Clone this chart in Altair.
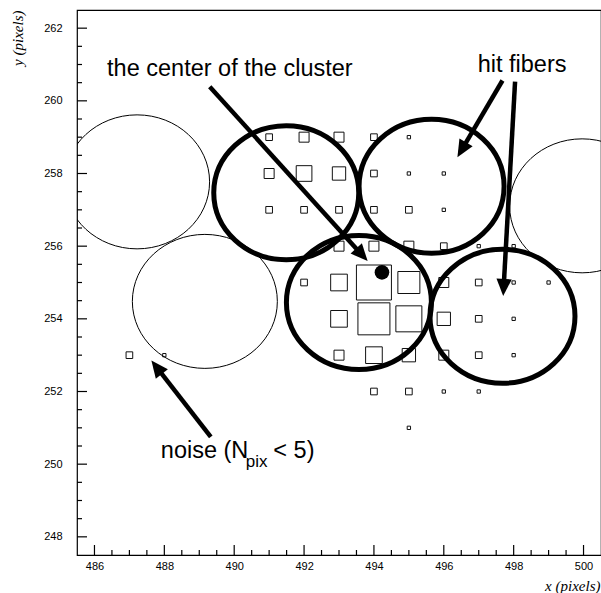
import math
import altair as alt
import pandas as pd

# ---- hit pixels: column, row and relative box size (pixel count) ----
hit_x = [491, 492, 493, 494, 495,
         491, 492, 493, 494, 495, 496,
         491, 492, 493, 494, 495, 496,
         493, 494, 495, 496, 497, 498,
         492, 493, 494, 495, 496, 497, 498, 499,
         493, 494, 495, 496, 497, 498,
         493, 494, 495, 496, 497, 498,
         494, 495, 496, 497,
         495,
         487, 488]
hit_y = [259, 259, 259, 259, 259,
         258, 258, 258, 258, 258, 258,
         257, 257, 257, 257, 257, 257,
         256, 256, 256, 256, 256, 256,
         255, 255, 255, 255, 255, 255, 255, 255,
         254, 254, 254, 254, 254, 254,
         253, 253, 253, 253, 253, 253,
         252, 252, 252, 252,
         251,
         253, 253]
hit_q = [2, 3, 3, 2, 1,
         3, 4.7, 4, 2, 1, 1,
         2, 2, 2, 2, 2, 1,
         3, 3, 3, 2, 1, 1,
         2, 5, 10.5, 6.6, 3, 2, 1, 1,
         5, 9.6, 7.8, 4, 2, 1,
         3, 5, 4, 3, 2, 1,
         2, 2, 1, 1,
         1,
         2, 1]

# ---- fibre outlines: centres and whether the fibre was hit ----
fiber_x = [487.22, 489.16, 491.49, 495.65, 493.57, 497.68, 499.96]
fiber_y = [257.77, 254.48, 257.47, 257.65, 254.45, 254.07, 257.11]
fiber_hit = [False, False, True, True, True, True, False]

# ---- reconstructed cluster centre ----
center_x = [494.23]
center_y = [255.28]

# ---- annotation arrows (tail -> head) ----
arrow_x0 = [489.30, 497.68, 498.04, 489.33]
arrow_y0 = [260.39, 260.56, 260.53, 250.75]
arrow_x1 = [493.82, 496.39, 497.70, 487.63]
arrow_y1 = [255.59, 258.45, 254.63, 252.85]

# ---- annotation texts (left end, baseline) ----
label_text = ["the center of the cluster", "hit fibers", "noise (N", "< 5)"]
label_x = [486.36, 496.97, 487.90, 491.12]
label_y = [260.67, 260.78, 250.16, 250.16]
sub_text = ["pix"]
sub_x = [490.33]
sub_y = [249.93]

# ---- axis ticks ----
x_major = [486, 488, 490, 492, 494, 496, 498, 500]
y_major = [248, 250, 252, 254, 256, 258, 260, 262]
x_minor = [v / 2 for v in range(972, 1001) if v % 4 != 0]
y_minor = [v / 2 for v in range(496, 525) if v % 4 != 0]

X_DOM = [485.5, 500.5]
Y_DOM = [247.5, 262.5]
W, H = 524, 545
SX = W / (X_DOM[1] - X_DOM[0])
SY = H / (Y_DOM[1] - Y_DOM[0])

xs = alt.Scale(domain=X_DOM, nice=False, zero=False)
ys = alt.Scale(domain=Y_DOM, nice=False, zero=False)


def X(f, **kw):
    return alt.X(f, type="quantitative", scale=xs, **kw)


def Y(f, **kw):
    return alt.Y(f, type="quantitative", scale=ys, **kw)


# hit boxes: side grows linearly with the pixel count
hits = pd.DataFrame({"x": hit_x, "y": hit_y, "q": hit_q})
box_layer = alt.Chart(hits).mark_square(
    filled=False, stroke="#111", strokeWidth=1, opacity=1
).encode(
    x=X("x", axis=alt.Axis(
        values=x_major, ticks=False, tickSize=0, domain=False, grid=False,
        labelFont="Liberation Sans", labelFontSize=11, labelColor="black",
        labelPadding=5, title="x (pixels)", titleFont="Liberation Serif",
        titleFontStyle="italic", titleFontWeight="normal", titleFontSize=15,
        titleColor="black", titleAnchor="end", titleAlign="right",
        titleX=W - 1, titleY=35, titleBaseline="alphabetic")),
    y=Y("y", axis=alt.Axis(
        values=y_major, ticks=False, tickSize=0, domain=False, grid=False,
        labelFont="Liberation Sans", labelFontSize=11, labelColor="black",
        labelPadding=15, title="y (pixels)", titleFont="Liberation Serif",
        titleFontStyle="italic", titleFontWeight="normal", titleFontSize=15,
        titleColor="black", titleAngle=270, titleAlign="right",
        titleX=-55, titleY=0, titleBaseline="alphabetic")),
    size=alt.Size("q:Q", scale=alt.Scale(type="pow", exponent=2,
                                        domain=[0, 10.5], range=[0, 35 ** 2]),
                  legend=None),
)

# fibre outlines drawn as slightly flattened ellipses
k, e = 0.5523, 0.924
ellipse = (f"M1,0C1,{k*e:.4f},{k},{e},0,{e}C{-k},{e},-1,{k*e:.4f},-1,0"
           f"C-1,{-k*e:.4f},{-k},{-e},0,{-e}C{k},{-e},1,{-k*e:.4f},1,0Z")
fibers = pd.DataFrame({"x": fiber_x, "y": fiber_y, "hit": fiber_hit})
thin_layer = alt.Chart(fibers[~fibers.hit]).mark_point(
    shape=ellipse, filled=False, stroke="black", strokeWidth=1,
    opacity=1, size=145 ** 2, clip=True
).encode(x=X("x"), y=Y("y"))
thick_layer = alt.Chart(fibers[fibers.hit]).mark_point(
    shape=ellipse, filled=False, stroke="black", strokeWidth=5,
    opacity=1, size=145 ** 2, clip=True
).encode(x=X("x"), y=Y("y"))

center_layer = alt.Chart(pd.DataFrame({"x": center_x, "y": center_y})).mark_circle(
    color="black", opacity=1, size=215
).encode(x=X("x"), y=Y("y"))

# arrows: shaft stops a little short of the tip, head is a rotated triangle
rows = []
for x0, y0, x1, y1 in zip(arrow_x0, arrow_y0, arrow_x1, arrow_y1):
    dxp, dyp = (x1 - x0) * SX, -(y1 - y0) * SY
    L = math.hypot(dxp, dyp)
    ux, uy = dxp / L, dyp / L
    back = 9
    rows.append({
        "x0": x0, "y0": y0,
        "xe": x1 - back * ux / SX, "ye": y1 + back * uy / SY,
        "x1": x1, "y1": y1,
        "ang": math.degrees(math.atan2(dxp, -dyp)) % 360,
    })
arrows = pd.DataFrame(rows)
shaft_layer = alt.Chart(arrows).mark_rule(
    color="black", strokeWidth=4.5, strokeCap="butt"
).encode(x=X("x0"), y=Y("y0"), x2="xe", y2="ye")
head_layer = alt.Chart(arrows).mark_point(
    shape="M0,0L-0.45,1L0.45,1Z", filled=True, color="black",
    opacity=1, size=34 ** 2
).encode(x=X("x1"), y=Y("y1"), angle=alt.Angle("ang:Q", scale=None))

labels = pd.DataFrame({"t": label_text, "x": label_x, "y": label_y})
label_layer = alt.Chart(labels).mark_text(
    align="left", baseline="alphabetic", font="Liberation Sans",
    fontSize=23.5, color="black"
).encode(x=X("x"), y=Y("y"), text="t")
subs = pd.DataFrame({"t": sub_text, "x": sub_x, "y": sub_y})
sub_layer = alt.Chart(subs).mark_text(
    align="left", baseline="alphabetic", font="Liberation Sans",
    fontSize=17, color="black"
).encode(x=X("x"), y=Y("y"), text="t")

# inward-pointing tick marks along the bottom and left frame
def xticks(vals, length):
    return alt.Chart(pd.DataFrame({"v": vals})).mark_rule(
        color="black", strokeWidth=1.2
    ).encode(x=X("v"), y=alt.value(H), y2=alt.value(H - length))


def yticks(vals, length):
    return alt.Chart(pd.DataFrame({"v": vals})).mark_rule(
        color="black", strokeWidth=1.2
    ).encode(y=Y("v"), x=alt.value(0), x2=alt.value(length))


chart = alt.layer(
    box_layer, thin_layer, thick_layer, center_layer,
    shaft_layer, head_layer, label_layer, sub_layer,
    xticks(x_major, 10), xticks(x_minor, 5),
    yticks(y_major, 10), yticks(y_minor, 5),
).properties(
    width=W, height=H,
    autosize=alt.AutoSizeParams(type="none"),
    padding={"left": 77, "top": 10, "right": 0, "bottom": 38},
    background="white",
).configure_view(stroke="black", strokeWidth=1.2)

chart.save("out.html", embed_options={"renderer": "svg", "actions": False})
